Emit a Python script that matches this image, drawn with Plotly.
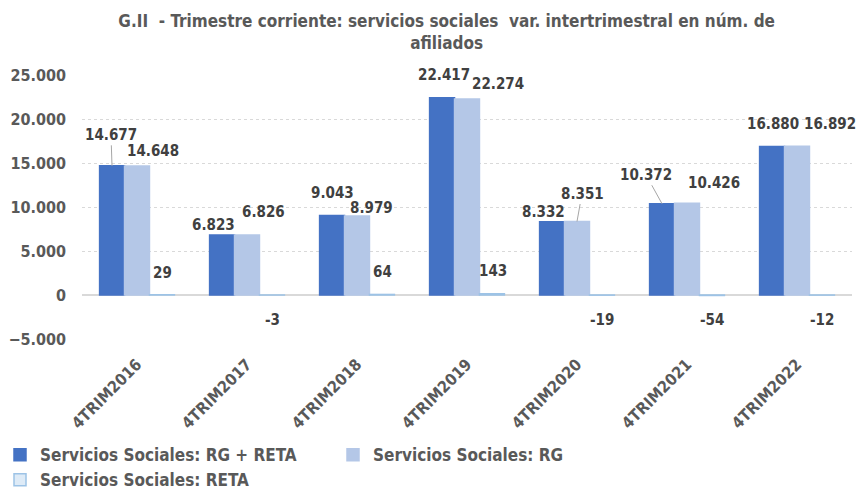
import plotly.graph_objects as go

categories = ["4TRIM2016", "4TRIM2017", "4TRIM2018", "4TRIM2019", "4TRIM2020", "4TRIM2021", "4TRIM2022"]
rg_reta = [14677, 6823, 9043, 22417, 8332, 10372, 16880]
rg = [14648, 6826, 8979, 22274, 8351, 10426, 16892]
reta = [29, -3, 64, 143, -19, -54, -12]
y_ticks = [-5000, 0, 5000, 10000, 15000, 20000, 25000]

series_names = ["Servicios Sociales: RG + RETA", "Servicios Sociales: RG", "Servicios Sociales: RETA"]
colors = ["#4472C4", "#B4C7E7", "#DEEBF7"]
line_colors = ["#4472C4", "#B4C7E7", "#9DC3E6"]

FONT = "DejaVu Sans Condensed, Liberation Sans Narrow, sans-serif"
GRAY = "#595959"
LABEL = "#404040"


def fmt(v):
    s = f"{abs(v):,}".replace(",", ".")
    return ("-" if v < 0 else "") + s


fig = go.Figure()
for name, vals, c, lc in zip(series_names, [rg_reta, rg, reta], colors, line_colors):
    fig.add_trace(go.Bar(
        x=categories, y=vals, name=name,
        marker=dict(color=c, line=dict(color=lc, width=1.5)),
    ))

# label placement (pixels): (dx from bar centre, dy of label centre above bar end)
offsets = [
    [(-1, 31), (-9, 10), (0, 22), (2, 23), (-9, 10), (-16, 29), (1, 22)],
    [(16, 15), (16, 23), (14, 8), (31, 15), (5, 28), (27, 20), (33, 22)],
    [(0, 22), (0, -25), (0, 22), (1, 23), (0, -25), (0, -25), (0, -25)],
]
leader = [
    [True, False, False, False, False, True, False],
    [False, False, False, False, True, False, False],
    [False] * 7,
]
xbase = [-25, 0, 25]

for si, vals in enumerate([rg_reta, rg, reta]):
    for ci, (cat, v) in enumerate(zip(categories, vals)):
        dx, dy = offsets[si][ci]
        font = dict(family=FONT, size=15, color=LABEL, weight="bold")
        if leader[si][ci]:
            fig.add_annotation(
                x=cat, y=v, text=fmt(v), showarrow=True,
                xshift=xbase[si], ax=dx, ay=-dy, axref="pixel", ayref="pixel",
                arrowhead=0, arrowwidth=1, arrowcolor="#A6A6A6", standoff=0,
                font=font,
            )
        else:
            fig.add_annotation(
                x=cat, y=v, text=fmt(v), showarrow=False,
                xshift=xbase[si] + dx, yshift=dy, yanchor="middle",
                font=font,
            )

fig.update_layout(
    width=859, height=494,
    paper_bgcolor="white", plot_bgcolor="white",
    margin=dict(l=82, r=7, t=75, b=155, autoexpand=False),
    separators=",.",
    barmode="group", bargap=0.32, bargroupgap=0,
    font=dict(family=FONT, color=GRAY, size=15),
    title=dict(
        text="G.II  - Trimestre corriente: servicios sociales  var. intertrimestral en núm. de<br>afiliados",
        x=0.52, xanchor="center", xref="container", y=0.945, yanchor="middle", yref="container",
        font=dict(family=FONT, size=17, color=GRAY, weight="bold"),
    ),
    showlegend=True,
    legend=dict(
        orientation="h", xref="container", yref="container",
        x=0.0, y=0.115, xanchor="left", yanchor="top",
        entrywidth=288, traceorder="normal", itemwidth=30,
        font=dict(family=FONT, size=17, color=GRAY, weight="bold"),
    ),
)
fig.update_xaxes(
    range=[-0.5, len(categories) - 0.5],
    tickangle=-45, showgrid=False, showline=False, ticks="", automargin=False,
    tickfont=dict(family=FONT, size=16, color=GRAY, weight="bold"),
    ticklabelstandoff=12,
)
fig.update_yaxes(
    range=[-5000, 25000], tickvals=y_ticks, tickformat=",d", automargin=False,
    showgrid=True, gridcolor="#D9D9D9", griddash="dot", gridwidth=1,
    zeroline=True, zerolinecolor="#D9D9D9", zerolinewidth=1.5,
    tickfont=dict(family=FONT, size=16, color=GRAY, weight="bold"),
    ticklabelstandoff=15,
)

fig.write_html("out.html", config={"displayModeBar": False},
               post_script="document.body.style.margin='0';")
